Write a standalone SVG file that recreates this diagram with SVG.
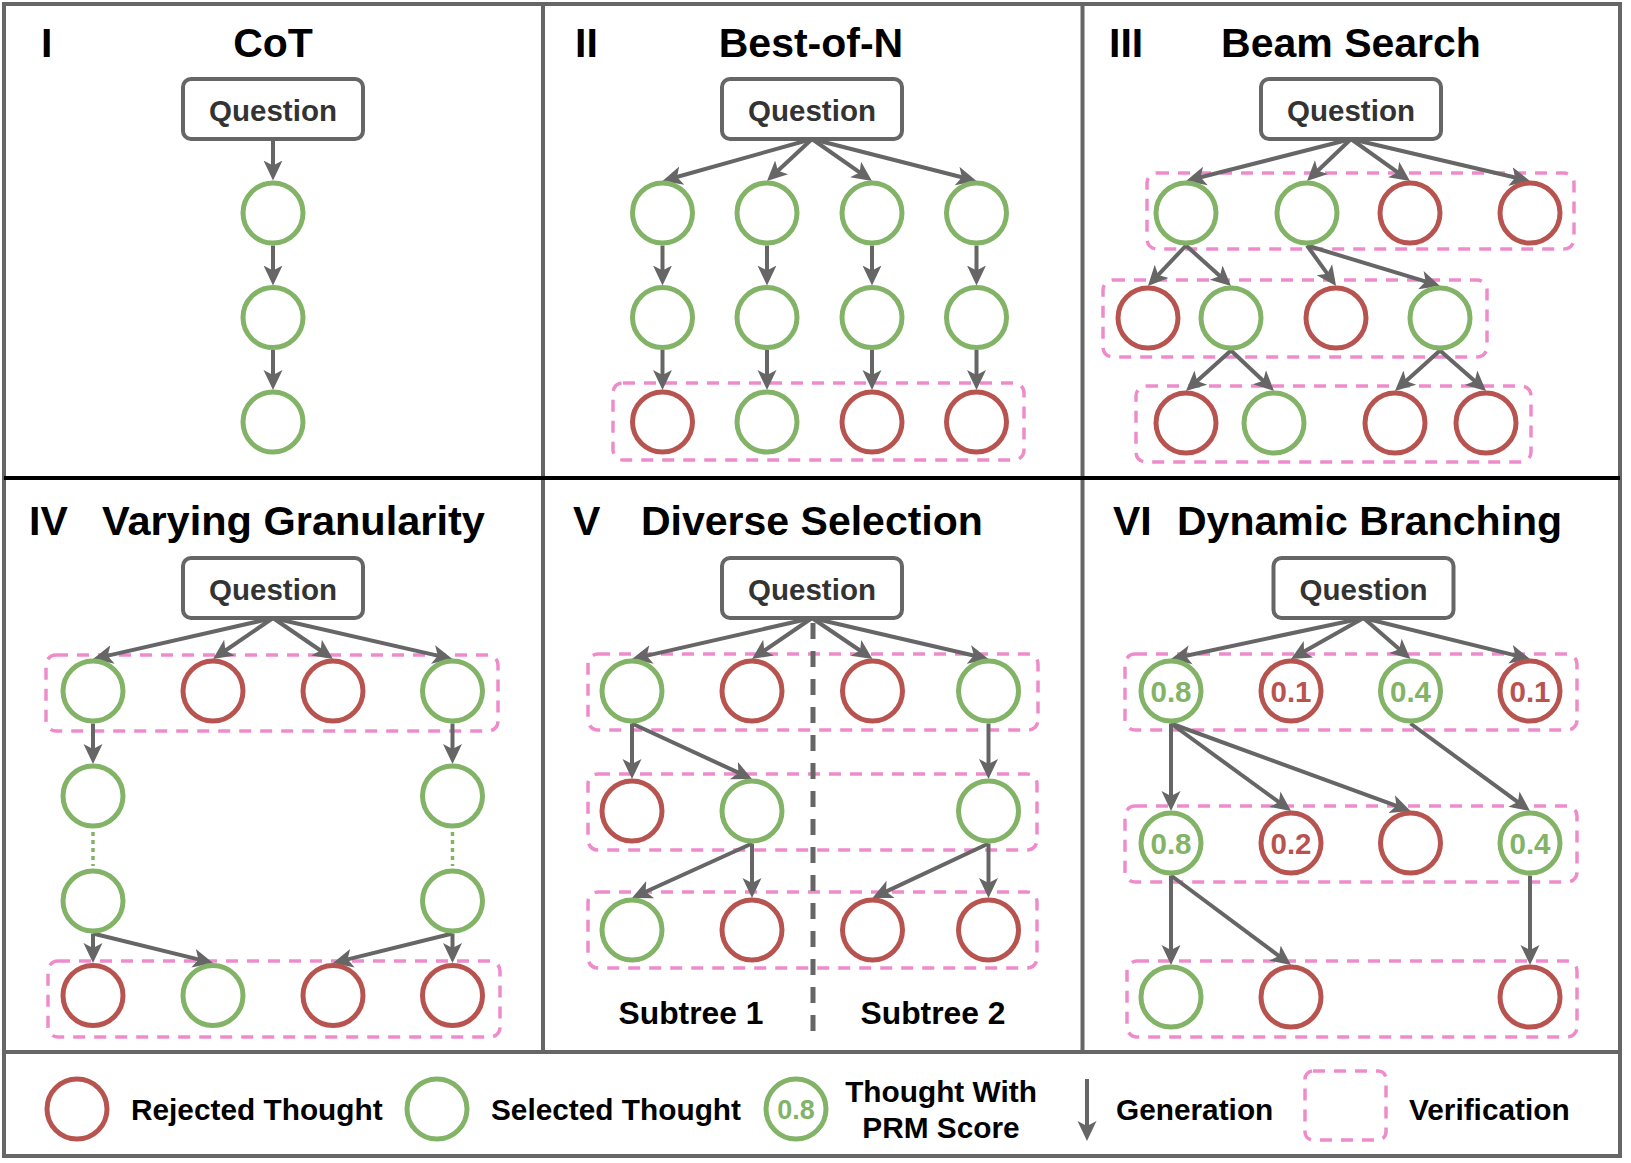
<svg xmlns="http://www.w3.org/2000/svg" width="1631" height="1163" viewBox="0 0 1631 1163">
<style>
.frame{fill:none;stroke:#666;stroke-width:4}
.g{fill:#fff;stroke:#82B366;stroke-width:5}
.r{fill:#fff;stroke:#B85450;stroke-width:5}
.qb{fill:#fff;stroke:#666;stroke-width:4}
.qt{font-family:"Liberation Sans",Arial,sans-serif;font-weight:bold;font-size:29.5px;fill:#333;text-anchor:middle}
.ti{font-family:"Liberation Sans",Arial,sans-serif;font-weight:bold;font-size:41px;fill:#000}
.ver{fill:none;stroke:#EE8CCB;stroke-width:3.5;stroke-dasharray:12 9}
.e{fill:none;stroke:#666;stroke-width:4;marker-end:url(#ah)}
.dot{fill:none;stroke:#82B366;stroke-width:3.5;stroke-dasharray:4 4}
.sg{font-family:"Liberation Sans",Arial,sans-serif;font-weight:bold;font-size:29.5px;fill:#82B366;text-anchor:middle}
.sr{font-family:"Liberation Sans",Arial,sans-serif;font-weight:bold;font-size:29.5px;fill:#B85450;text-anchor:middle}
.lt{font-family:"Liberation Sans",Arial,sans-serif;font-weight:bold;font-size:29.8px;fill:#000}
.st{font-family:"Liberation Sans",Arial,sans-serif;font-weight:bold;font-size:31.8px;fill:#000;text-anchor:middle}
</style>
<defs>
<marker id="ah" markerUnits="userSpaceOnUse" markerWidth="22" markerHeight="22" viewBox="0 -11 22 22" refX="8" refY="0" orient="auto">
<path d="M0,-9.5 L20,0 L0,9.5 L5,0 Z" fill="#666"/>
</marker>
</defs>
<rect width="1631" height="1163" fill="#fff"/>

<g id="frame">
<rect class="frame" x="4" y="4" width="1616" height="1152"/>
<line class="frame" x1="543" y1="4" x2="543" y2="1052"/>
<line class="frame" x1="1082.5" y1="4" x2="1082.5" y2="1052"/>
<line class="frame" x1="4" y1="1052" x2="1620" y2="1052"/>
<line x1="4" y1="478" x2="1620" y2="478" stroke="#000" stroke-width="4"/>
</g>

<g id="titles">
<text class="ti" x="41" y="57">I</text>
<text class="ti" x="273" y="57" text-anchor="middle">CoT</text>
<text class="ti" x="575" y="57">II</text>
<text class="ti" x="811" y="57" text-anchor="middle">Best-of-N</text>
<text class="ti" x="1109" y="57">III</text>
<text class="ti" x="1351" y="57" text-anchor="middle">Beam Search</text>
<text class="ti" x="29" y="535">IV</text>
<text class="ti" x="102" y="535" style="font-size:41.5px">Varying Granularity</text>
<text class="ti" x="573" y="535">V</text>
<text class="ti" x="641" y="535">Diverse Selection</text>
<text class="ti" x="1113" y="535">VI</text>
<text class="ti" x="1177" y="535">Dynamic Branching</text>
</g>

<g id="verification">
<rect class="ver" x="613" y="383" width="411" height="77" rx="10"/>
<rect class="ver" x="1147" y="173" width="427" height="76" rx="10"/>
<rect class="ver" x="1103" y="280" width="384" height="77" rx="10"/>
<rect class="ver" x="1136" y="386" width="395" height="76" rx="10"/>
<rect class="ver" x="46" y="655" width="452" height="76" rx="10"/>
<rect class="ver" x="48" y="961" width="452" height="76" rx="10"/>
<rect class="ver" x="588" y="654" width="450" height="76" rx="10"/>
<rect class="ver" x="588" y="774" width="449" height="76" rx="10"/>
<rect class="ver" x="588" y="892" width="449" height="76" rx="10"/>
<rect class="ver" x="1125" y="654" width="452" height="76" rx="10"/>
<rect class="ver" x="1125" y="806" width="452" height="76" rx="10"/>
<rect class="ver" x="1127" y="961" width="450" height="76" rx="10"/>
</g>

<g id="connectors">
<!-- I -->
<line class="e" x1="273" y1="139" x2="273" y2="168.5"/>
<line class="e" x1="273" y1="245.5" x2="273" y2="273.5"/>
<line class="e" x1="273" y1="350" x2="273" y2="378"/>
<!-- II -->
<line class="e" x1="812" y1="139" x2="674.05" y2="177.75"/>
<line class="e" x1="812" y1="139" x2="775.77" y2="172.81"/>
<line class="e" x1="812" y1="139" x2="862.17" y2="174.12"/>
<line class="e" x1="812" y1="139" x2="964.87" y2="178.03"/>
<line class="e" x1="662.5" y1="245.5" x2="662.5" y2="273.5"/>
<line class="e" x1="767" y1="245.5" x2="767" y2="273.5"/>
<line class="e" x1="872" y1="245.5" x2="872" y2="273.5"/>
<line class="e" x1="976.5" y1="245.5" x2="976.5" y2="273.5"/>
<line class="e" x1="662.5" y1="350" x2="662.5" y2="378"/>
<line class="e" x1="767" y1="350" x2="767" y2="378"/>
<line class="e" x1="872" y1="350" x2="872" y2="378"/>
<line class="e" x1="976.5" y1="350" x2="976.5" y2="378"/>
<!-- III -->
<line class="e" x1="1351" y1="139" x2="1197.63" y2="178.04"/>
<line class="e" x1="1351" y1="139" x2="1315.68" y2="172.71"/>
<line class="e" x1="1351" y1="139" x2="1400.22" y2="174.04"/>
<line class="e" x1="1351" y1="139" x2="1518.32" y2="178.26"/>
<line class="e" x1="1186" y1="245.5" x2="1156.16" y2="277.2"/>
<line class="e" x1="1186" y1="245.5" x2="1222.13" y2="277.92"/>
<line class="e" x1="1307" y1="245.5" x2="1329.07" y2="276.2"/>
<line class="e" x1="1307" y1="245.5" x2="1428.53" y2="282.46"/>
<line class="e" x1="1231" y1="350.5" x2="1194.87" y2="382.92"/>
<line class="e" x1="1231" y1="350.5" x2="1265.31" y2="382.72"/>
<line class="e" x1="1440" y1="350.5" x2="1403.87" y2="382.92"/>
<line class="e" x1="1440" y1="350.5" x2="1477.04" y2="383.02"/>
<!-- IV -->
<line class="e" x1="273" y1="618" x2="104.7" y2="656.33"/>
<line class="e" x1="273" y1="618" x2="222.91" y2="652.23"/>
<line class="e" x1="273" y1="618" x2="323.09" y2="652.23"/>
<line class="e" x1="273" y1="618" x2="440.8" y2="656.33"/>
<line class="e" x1="93" y1="723.5" x2="93" y2="752"/>
<line class="e" x1="452.5" y1="723.5" x2="452.5" y2="752"/>
<line class="dot" x1="93" y1="832" x2="93" y2="866"/>
<line class="dot" x1="452.5" y1="832" x2="452.5" y2="866"/>
<line class="e" x1="93" y1="933.5" x2="93" y2="951"/>
<line class="e" x1="93" y1="933.5" x2="201.36" y2="960.09"/>
<line class="e" x1="452.5" y1="933.5" x2="344.64" y2="960.08"/>
<line class="e" x1="452.5" y1="933.5" x2="452.5" y2="951"/>
<!-- V -->
<line x1="813" y1="623" x2="813" y2="1035" stroke="#666" stroke-width="5" stroke-dasharray="16 12"/>
<line class="e" x1="812" y1="618" x2="643.7" y2="656.33"/>
<line class="e" x1="812" y1="618" x2="761.91" y2="652.23"/>
<line class="e" x1="812" y1="618" x2="862.57" y2="652.27"/>
<line class="e" x1="812" y1="618" x2="976.81" y2="656.28"/>
<line class="e" x1="632" y1="723.5" x2="632" y2="767"/>
<line class="e" x1="632" y1="723.5" x2="741.13" y2="773.93"/>
<line class="e" x1="988.5" y1="723.5" x2="988.5" y2="767"/>
<line class="e" x1="752" y1="843.5" x2="642.91" y2="893"/>
<line class="e" x1="752" y1="843.5" x2="752" y2="886"/>
<line class="e" x1="988.5" y1="843.5" x2="883.34" y2="892.86"/>
<line class="e" x1="988.5" y1="843.5" x2="988.5" y2="886"/>
<!-- VI -->
<line class="e" x1="1363.5" y1="618" x2="1182.74" y2="656.5"/>
<line class="e" x1="1363.5" y1="618" x2="1301.44" y2="653.09"/>
<line class="e" x1="1363.5" y1="618" x2="1401.46" y2="651.11"/>
<line class="e" x1="1363.5" y1="618" x2="1518.35" y2="656.13"/>
<line class="e" x1="1171" y1="723.5" x2="1171" y2="799"/>
<line class="e" x1="1171" y1="723.5" x2="1281.32" y2="803.9"/>
<line class="e" x1="1171" y1="723.5" x2="1399.24" y2="806.86"/>
<line class="e" x1="1410.5" y1="723.5" x2="1520.34" y2="803.88"/>
<line class="e" x1="1171" y1="875.5" x2="1171" y2="953"/>
<line class="e" x1="1171" y1="875.5" x2="1281.4" y2="957.8"/>
<line class="e" x1="1530" y1="875.5" x2="1530" y2="953"/>
<!-- legend -->
<line class="e" x1="1087" y1="1079" x2="1087" y2="1129"/>
</g>

<g id="p1-nodes">
<g id="p1-q"><rect class="qb" x="183" y="79" width="180" height="60" rx="8"/><text class="qt" x="273" y="120.5">Question</text></g>
<circle id="p1-n1" class="g" cx="273" cy="213" r="30"/>
<circle id="p1-n2" class="g" cx="273" cy="317.5" r="30"/>
<circle id="p1-n3" class="g" cx="273" cy="422" r="30"/>
</g>

<g id="p2-nodes">
<g id="p2-q"><rect class="qb" x="722" y="79" width="180" height="60" rx="8"/><text class="qt" x="812" y="120.5">Question</text></g>
<circle id="p2-a1" class="g" cx="662.5" cy="213" r="30"/>
<circle id="p2-b1" class="g" cx="767" cy="213" r="30"/>
<circle id="p2-c1" class="g" cx="872" cy="213" r="30"/>
<circle id="p2-d1" class="g" cx="976.5" cy="213" r="30"/>
<circle id="p2-a2" class="g" cx="662.5" cy="317.5" r="30"/>
<circle id="p2-b2" class="g" cx="767" cy="317.5" r="30"/>
<circle id="p2-c2" class="g" cx="872" cy="317.5" r="30"/>
<circle id="p2-d2" class="g" cx="976.5" cy="317.5" r="30"/>
<circle id="p2-a3" class="r" cx="662.5" cy="422" r="30"/>
<circle id="p2-b3" class="g" cx="767" cy="422" r="30"/>
<circle id="p2-c3" class="r" cx="872" cy="422" r="30"/>
<circle id="p2-d3" class="r" cx="976.5" cy="422" r="30"/>
</g>

<g id="p3-nodes">
<g id="p3-q"><rect class="qb" x="1261" y="79" width="180" height="60" rx="8"/><text class="qt" x="1351" y="120.5">Question</text></g>
<circle id="p3-r1a" class="g" cx="1186" cy="213" r="30"/>
<circle id="p3-r1b" class="g" cx="1307" cy="213" r="30"/>
<circle id="p3-r1c" class="r" cx="1410" cy="213" r="30"/>
<circle id="p3-r1d" class="r" cx="1530" cy="213" r="30"/>
<circle id="p3-r2a" class="r" cx="1148" cy="318" r="30"/>
<circle id="p3-r2b" class="g" cx="1231" cy="318" r="30"/>
<circle id="p3-r2c" class="r" cx="1336" cy="318" r="30"/>
<circle id="p3-r2d" class="g" cx="1440" cy="318" r="30"/>
<circle id="p3-r3a" class="r" cx="1186" cy="423" r="30"/>
<circle id="p3-r3b" class="g" cx="1274" cy="423" r="30"/>
<circle id="p3-r3c" class="r" cx="1395" cy="423" r="30"/>
<circle id="p3-r3d" class="r" cx="1486" cy="423" r="30"/>
</g>

<g id="p4-nodes">
<g id="p4-q"><rect class="qb" x="183" y="558" width="180" height="60" rx="8"/><text class="qt" x="273" y="599.5">Question</text></g>
<circle id="p4-r1a" class="g" cx="93" cy="691" r="30"/>
<circle id="p4-r1b" class="r" cx="213" cy="691" r="30"/>
<circle id="p4-r1c" class="r" cx="333" cy="691" r="30"/>
<circle id="p4-r1d" class="g" cx="452.5" cy="691" r="30"/>
<circle id="p4-r2a" class="g" cx="93" cy="796" r="30"/>
<circle id="p4-r2d" class="g" cx="452.5" cy="796" r="30"/>
<circle id="p4-r3a" class="g" cx="93" cy="901" r="30"/>
<circle id="p4-r3d" class="g" cx="452.5" cy="901" r="30"/>
<circle id="p4-r4a" class="r" cx="93" cy="995.5" r="30"/>
<circle id="p4-r4b" class="g" cx="213" cy="995.5" r="30"/>
<circle id="p4-r4c" class="r" cx="333" cy="995.5" r="30"/>
<circle id="p4-r4d" class="r" cx="452.5" cy="995.5" r="30"/>
</g>

<g id="p5-nodes">
<g id="p5-q"><rect class="qb" x="722" y="558" width="180" height="60" rx="8"/><text class="qt" x="812" y="599.5">Question</text></g>
<circle id="p5-r1a" class="g" cx="632" cy="691" r="30"/>
<circle id="p5-r1b" class="r" cx="752" cy="691" r="30"/>
<circle id="p5-r1c" class="r" cx="872.5" cy="691" r="30"/>
<circle id="p5-r1d" class="g" cx="988.5" cy="691" r="30"/>
<circle id="p5-r2a" class="r" cx="632" cy="811" r="30"/>
<circle id="p5-r2b" class="g" cx="752" cy="811" r="30"/>
<circle id="p5-r2d" class="g" cx="988.5" cy="811" r="30"/>
<circle id="p5-r3a" class="g" cx="632" cy="930" r="30"/>
<circle id="p5-r3b" class="r" cx="752" cy="930" r="30"/>
<circle id="p5-r3c" class="r" cx="872.5" cy="930" r="30"/>
<circle id="p5-r3d" class="r" cx="988.5" cy="930" r="30"/>
<text id="p5-sub1" class="st" x="691" y="1024">Subtree 1</text>
<text id="p5-sub2" class="st" x="933" y="1024">Subtree 2</text>
</g>

<g id="p6-nodes">
<g id="p6-q"><rect class="qb" x="1273.5" y="558" width="180" height="60" rx="8"/><text class="qt" x="1363.5" y="599.5">Question</text></g>
<g id="p6-r1a"><circle class="g" cx="1171" cy="691" r="30"/><text class="sg" x="1171" y="701.5">0.8</text></g>
<g id="p6-r1b"><circle class="r" cx="1291" cy="691" r="30"/><text class="sr" x="1291" y="701.5">0.1</text></g>
<g id="p6-r1c"><circle class="g" cx="1410.5" cy="691" r="30"/><text class="sg" x="1410.5" y="701.5">0.4</text></g>
<g id="p6-r1d"><circle class="r" cx="1530" cy="691" r="30"/><text class="sr" x="1530" y="701.5">0.1</text></g>
<g id="p6-r2a"><circle class="g" cx="1171" cy="843" r="30"/><text class="sg" x="1171" y="853.5">0.8</text></g>
<g id="p6-r2b"><circle class="r" cx="1291" cy="843" r="30"/><text class="sr" x="1291" y="853.5">0.2</text></g>
<circle id="p6-r2c" class="r" cx="1410.5" cy="843" r="30"/>
<g id="p6-r2d"><circle class="g" cx="1530" cy="843" r="30"/><text class="sg" x="1530" y="853.5">0.4</text></g>
<circle id="p6-r3a" class="g" cx="1171" cy="997" r="30"/>
<circle id="p6-r3b" class="r" cx="1291" cy="997" r="30"/>
<circle id="p6-r3d" class="r" cx="1530" cy="997" r="30"/>
</g>

<g id="legend">
<g id="lg-rej"><circle class="r" cx="77" cy="1109" r="30"/><text class="lt" x="131" y="1120">Rejected Thought</text></g>
<g id="lg-sel"><circle class="g" cx="437" cy="1109" r="30"/><text class="lt" x="491" y="1120">Selected Thought</text></g>
<g id="lg-prm"><circle class="g" cx="796" cy="1109" r="30"/><text class="sg" x="796" y="1119" style="font-size:27px">0.8</text>
<text class="lt" x="941" y="1102" text-anchor="middle">Thought With</text>
<text class="lt" x="941" y="1138" text-anchor="middle">PRM Score</text></g>
<g id="lg-gen"><text class="lt" x="1116" y="1120">Generation</text></g>
<g id="lg-ver"><rect class="ver" x="1305" y="1071" width="81" height="69" rx="8"/><text class="lt" x="1409" y="1120">Verification</text></g>
</g>
</svg>
